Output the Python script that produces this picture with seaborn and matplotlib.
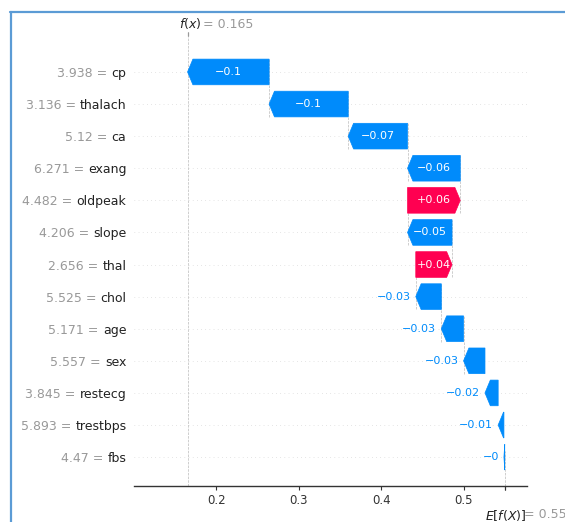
import re
import numpy as np
import matplotlib
matplotlib.use("Agg")
import matplotlib.pyplot as plt
import matplotlib.transforms as mtransforms
from matplotlib.lines import Line2D
import seaborn as sns

# data (top row first)
features = ["cp", "thalach", "ca", "exang", "oldpeak", "slope", "thal",
            "chol", "age", "sex", "restecg", "trestbps", "fbs"]
feature_values = [3.938, 3.136, 5.12, 6.271, 4.482, 4.206, 2.656,
                  5.525, 5.171, 5.557, 3.845, 5.893, 4.47]
shap_values = [-0.099, -0.096, -0.072, -0.064, 0.064, -0.054, 0.044,
               -0.031, -0.027, -0.026, -0.016, -0.007, -0.001]
base_value = 0.55
x_ticks = [0.2, 0.3, 0.4, 0.5]

BLUE = "#008bfb"
RED = "#ff0051"


def fmt(v, f):
    s = f % v
    s = re.sub(r"\.?0+$", "", s)
    if s.startswith("-"):
        s = "\u2212" + s[1:]
    return s


sns.set_style("white")
plt.rcParams["font.family"] = ["DejaVu Sans"]
plt.rcParams["mathtext.fontset"] = "dejavusans"

n = len(features)
rows = np.arange(n)[::-1]
fx = base_value + sum(shap_values)

fig = plt.figure(figsize=(5.65, 5.22), dpi=100)
ax = fig.add_axes([134 / 565, 36 / 522, 393 / 565, 450 / 522])
xmin, xmax = 0.1, 0.577
ax.set_xlim(xmin, xmax)
ax.set_ylim(-0.9, 13.12)

# row guide lines
for r in rows:
    ax.axhline(r, color="#cccccc", lw=0.5, dashes=(1, 5), zorder=-1)

ax.axvline(fx, 0, 1, color="#bbbbbb", linestyle="--", linewidth=0.5, zorder=-1)
ax.axvline(base_value, 0, 1 / n, color="#bbbbbb", linestyle="--", linewidth=0.5, zorder=-1)

# start point of each arrow
starts = []
loc = fx
for v in shap_values:
    loc -= v
    starts.append(loc)

for i in range(n):
    if i + 4 < n:
        ax.plot([starts[i], starts[i]], [rows[i] - 1 - 0.4, rows[i] + 0.4],
                color="#bbbbbb", linestyle="--", linewidth=0.5, zorder=-1)

hl = 0.0065
bar_w = 0.8
fig.canvas.draw()
renderer = fig.canvas.get_renderer()

for i, v in enumerate(shap_values):
    sign = 1 if v >= 0 else -1
    col = RED if v >= 0 else BLUE
    d = abs(v)
    arr = ax.arrow(starts[i], rows[i], sign * max(d - hl, 1e-6), 0,
                   head_length=min(d, hl), width=bar_w, head_width=bar_w,
                   color=col, lw=0.5)
    label = fmt(v, "%+0.02f")
    txt = ax.text(starts[i] + 0.5 * v, rows[i], label, ha="center", va="center",
                  color="white", fontsize=8)
    tb = txt.get_window_extent(renderer=renderer)
    ab = arr.get_window_extent(renderer=renderer)
    if tb.width > ab.width:
        txt.remove()
        ax.annotate(label, xy=(starts[i] + v, rows[i]), xytext=(sign * 3.6, 0),
                    textcoords="offset points", ha="left" if v >= 0 else "right",
                    va="center", color=col, fontsize=8)

# y labels: dark feature name, grey "value =" in front of it
ax.set_yticks(rows)
ax.set_yticklabels([""] * n)
ax.tick_params(axis="y", length=0)
ytrans = ax.get_yaxis_transform()
pad_pt = 5.5
gap_pt = 2.9
for r, nm, fv in zip(rows, features, feature_values):
    t = ax.annotate(nm, xy=(0, r), xycoords=ytrans, xytext=(-pad_pt, 0),
                    textcoords="offset points", ha="right", va="center_baseline",
                    fontsize=9, color="#222222", annotation_clip=False)
    w_pt = t.get_window_extent(renderer=renderer).width * 72 / fig.dpi
    ax.annotate(fmt(fv, "%0.03f") + " =", xy=(0, r), xycoords=ytrans,
                xytext=(-pad_pt - w_pt - gap_pt, 0), textcoords="offset points",
                ha="right", va="center_baseline", fontsize=9, color="#999999",
                annotation_clip=False)

ax.set_xticks(x_ticks)
ax.set_xticklabels([str(t) for t in x_ticks], fontsize=8.5, color="#333333")
ax.tick_params(axis="x", length=3, width=0.8, color="#333333", pad=2.5, bottom=True)
sns.despine(ax=ax, left=True, top=True, right=True)
ax.spines["bottom"].set_color("#333333")
ax.spines["bottom"].set_linewidth(1.0)

# expected value label below the axis
ax2 = ax.twiny()
ax2.set_xlim(xmin, xmax)
ax2.xaxis.set_ticks_position("bottom")
ax2.set_xticks([base_value, base_value + 1e-8])
ax2.set_xticklabels(["$E[f(X)]$", "= " + fmt(base_value, "%0.03f")],
                    fontsize=9, ha="left")
ax2.tick_params(axis="x", length=3, width=0.8, color="#333333", pad=12.5)
labs = ax2.xaxis.get_majorticklabels()
labs[0].set_transform(labs[0].get_transform() + mtransforms.ScaledTranslation(-14.4 / 72, 0, fig.dpi_scale_trans))
labs[1].set_transform(labs[1].get_transform() + mtransforms.ScaledTranslation(13.5 / 72, 0, fig.dpi_scale_trans))
labs[0].set_color("#222222")
labs[1].set_color("#999999")
for s in ax2.spines.values():
    s.set_visible(False)

# model output label above the plot
ax3 = ax.twiny()
ax3.set_xlim(xmin, xmax)
ax3.set_xticks([fx, fx + 1e-8])
ax3.set_xticklabels(["$f(x)$", "= " + fmt(fx, "%0.03f")], fontsize=9, ha="left")
ax3.tick_params(axis="x", length=3, width=0.8, color="#999999", pad=0.5)
labs = ax3.xaxis.get_majorticklabels()
labs[0].set_transform(labs[0].get_transform() + mtransforms.ScaledTranslation(-5.8 / 72, 0, fig.dpi_scale_trans))
labs[1].set_transform(labs[1].get_transform() + mtransforms.ScaledTranslation(10.8 / 72, 0, fig.dpi_scale_trans))
labs[0].set_color("#222222")
labs[1].set_color("#999999")
for s in ax3.spines.values():
    s.set_visible(False)

# screenshot frame
fig.add_artist(Line2D([11 / 565, 11 / 565], [0, 510 / 522], color="#5b9bd5", lw=1.6))
fig.add_artist(Line2D([10 / 565, 1], [510 / 522, 510 / 522], color="#5b9bd5", lw=1.6))

fig.savefig("out.png", dpi=100)
plt.close(fig)
